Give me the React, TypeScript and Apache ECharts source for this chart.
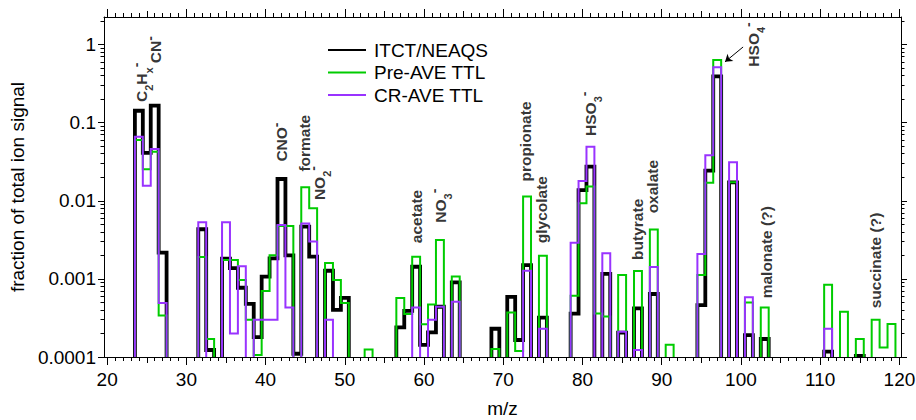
import React, { useEffect, useRef } from "react";
import * as echarts from "echarts";

// ---------- data ----------
const itctMz = [24, 25, 26, 27, 32, 33, 35, 36, 37, 38, 39, 40, 41, 42, 43, 44, 45, 46, 48, 49, 50, 57, 58, 59, 60, 61, 62, 64, 69, 71, 72, 73, 75, 79, 80, 81, 83, 85, 87, 89, 95, 96, 97, 99, 101, 103, 111, 115];
const itctVal = [0.142, 0.041, 0.165, 0.00217, 0.00432, 0.000123, 0.00182, 0.00137, 0.00077, 0.00048, 0.00018, 0.00107, 0.00183, 0.019, 0.002, 0.00011, 0.00467, 0.00193, 0.00127, 0.0004, 0.00057, 0.00024, 0.00039, 0.00143, 0.000143, 0.000207, 0.00044, 0.0009, 0.00023, 0.00059, 0.000165, 0.0015, 0.00032, 0.00036, 0.0137, 0.0273, 0.00116, 0.000205, 0.00042, 0.00064, 0.00046, 0.0243, 0.39, 0.0172, 0.00019, 0.00017, 0.000117, 0.000103];

const preMz = [24, 25, 26, 27, 32, 33, 35, 36, 37, 38, 39, 40, 41, 42, 43, 45, 46, 48, 49, 50, 53, 57, 58, 59, 60, 61, 62, 64, 69, 71, 72, 73, 75, 79, 80, 81, 82, 83, 85, 87, 89, 91, 95, 96, 97, 99, 101, 103, 111, 113, 115, 117, 118, 119];
const preVal = [0.06, 0.0253, 0.0425, 0.00034, 0.0019, 0.00017, 0.00175, 0.00175, 0.00097, 0.0003, 0.000106, 0.0007, 0.002, 0.00475, 0.00475, 0.0149, 0.008, 0.0016, 0.00097, 0.00049, 0.000125, 0.00057, 0.000355, 0.00192, 0.000263, 0.00047, 0.00315, 0.00107, 0.000127, 0.00037, 0.000119, 0.0113, 0.00198, 0.00061, 0.0093, 0.0152, 0.00036, 0.00033, 0.00112, 0.00126, 0.0043, 0.000143, 0.00112, 0.017, 0.635, 0.0172, 0.0005, 0.00043, 0.00084, 0.00038, 0.00017, 0.0003, 0.000132, 0.000265];

const crMz = [24, 25, 26, 27, 32, 35, 36, 37, 39, 40, 41, 42, 43, 45, 46, 48, 59, 61, 62, 64, 73, 75, 79, 80, 81, 83, 85, 87, 89, 95, 96, 97, 99, 101, 111];
const crVal = [0.066, 0.0156, 0.046, 0.00049, 0.0053, 0.0053, 0.0002, 0.00145, 0.0003, 0.0003, 0.0003, 0.0049, 0.00043, 0.0051, 0.003, 0.0003, 0.00043, 0.0003, 0.00044, 0.00051, 0.00127, 0.00023, 0.0029, 0.0179, 0.0493, 0.00213, 0.00021, 0.000123, 0.00142, 0.00208, 0.0382, 0.512, 0.0311, 0.00058, 0.00023];

const seriesNames = ["ITCT/NEAQS", "Pre-AVE TTL", "CR-AVE TTL"];

// annotations (rich text, m/z of text centre, value at text start)
const annoText = [
  "{b|C}{sb|2}{b|H}{sb|x}{sp|-}",
  "{b|CN}{sp|-}",
  "{b|CNO}{sp|-}",
  "{b|formate}",
  "{b|NO}{sb|2}{sp|-}",
  "{b|acetate}",
  "{b|NO}{sb|3}{sp|-}",
  "{b|propionate}",
  "{b|glycolate}",
  "{b|HSO}{sb|3}{sp|-}",
  "{b|butyrate}",
  "{b|oxalate}",
  "{b|HSO}{sb|4}{sp|-}",
  "{b|malonate (?)}",
  "{b|succinate (?)}",
];
const annoMz = [24.34, 26.13, 42.02, 44.96, 46.8, 59.04, 62.05, 72.8, 74.85, 80.95, 86.95, 88.8, 101.63, 103.2, 116.97];
const annoVal = [0.184, 0.576, 0.0317, 0.0236, 0.0102, 0.00286, 0.00524, 0.0176, 0.00286, 0.0676, 0.00175, 0.0069, 0.521, 0.000564, 0.00042];

const arrowFrom = [100.27, 0.93];
const arrowTo = [97.99, 0.6];

const xMajor = [20, 30, 40, 50, 60, 70, 80, 90, 100, 110, 120];
const yMajor = [0.0001, 0.001, 0.01, 0.1, 1];
const yTickLabels = ["0.0001", "0.001", "0.01", "0.1", "1"];

// ---------- layout constants ----------
const X_MIN = 19.6;
const X_MAX = 120.2;
const Y_MIN = 0.0001;
const Y_MAX = 2.25;
const FONT = "'Liberation Sans', Arial, Helvetica, sans-serif";

const xMid: number[] = [];
for (let v = 25; v <= 115; v += 10) xMid.push(v);
const xMinor: number[] = [];
for (let v = 20; v <= 120; v += 1) xMinor.push(v);
const yMinor: number[] = [];
for (const d of yMajor) for (let k = 2; k <= 9; k++) if (k * d <= Y_MAX) yMinor.push(k * d);

function buildSteps(mz: number[], vals: number[]) {
  const pts: number[][] = [];
  let i = 0;
  while (i < mz.length) {
    let j = i;
    while (j + 1 < mz.length && mz[j + 1] === mz[j] + 1) j++;
    pts.push([mz[i] - 0.5, Y_MIN]);
    for (let k = i; k <= j; k++) {
      pts.push([mz[k] - 0.5, vals[k]]);
      pts.push([mz[k] + 0.5, vals[k]]);
    }
    pts.push([mz[j] + 0.5, Y_MIN]);
    pts.push([mz[j] + 0.5, NaN]);
    i = j + 1;
  }
  return pts;
}

const black = "#000000";

function xAxis(position: string, ticks: number[], len: number, main: boolean, line: boolean) {
  return {
    type: "value",
    position,
    min: X_MIN,
    max: X_MAX,
    name: main ? "m/z" : "",
    nameLocation: "middle",
    nameGap: 42,
    nameTextStyle: { fontSize: 19, fontFamily: FONT, color: black },
    axisLine: { show: line, onZero: false, lineStyle: { color: black, width: 1 } },
    axisTick: { show: true, inside: false, length: len, customValues: ticks, lineStyle: { color: black, width: 1 } },
    axisLabel: main
      ? { show: true, customValues: xMajor, color: black, fontSize: 19, fontFamily: FONT, margin: 13 }
      : { show: false },
    splitLine: { show: false },
    minorTick: { show: false },
  };
}

function yAxis(position: string, ticks: number[], len: number, main: boolean, line: boolean) {
  return {
    type: "log",
    logBase: 10,
    position,
    min: Y_MIN,
    max: Y_MAX,
    name: main ? "fraction of total ion signal" : "",
    nameLocation: "middle",
    nameGap: 75,
    nameTextStyle: { fontSize: 19, fontFamily: FONT, color: black },
    axisLine: { show: line, onZero: false, lineStyle: { color: black, width: 1 } },
    axisTick: { show: true, inside: false, length: len, customValues: ticks, lineStyle: { color: black, width: 1 } },
    axisLabel: main
      ? {
          show: true,
          customValues: yMajor,
          color: black,
          fontSize: 19,
          fontFamily: FONT,
          margin: 8,
          formatter: (v: number) => {
            const i = yMajor.findIndex((m) => Math.abs(Math.log10(m) - Math.log10(v)) < 1e-6);
            return i >= 0 ? yTickLabels[i] : String(v);
          },
        }
      : { show: false },
    splitLine: { show: false },
    minorTick: { show: false },
  };
}

const rich = {
  b: { fontSize: 15.5, fontWeight: "bold", fontFamily: FONT, color: black, lineHeight: 26, verticalAlign: "middle" },
  sb: { fontSize: 11, fontWeight: "bold", fontFamily: FONT, color: black, lineHeight: 11, verticalAlign: "bottom" },
  sp: { fontSize: 14, fontWeight: "bold", fontFamily: FONT, color: black, lineHeight: 12, verticalAlign: "top" },
};

const option = {
  animation: false,
  backgroundColor: "#ffffff",
  grid: { left: 104, right: 15, top: 17, bottom: 63, containLabel: false, outerBoundsMode: "none" },
  legend: {
    data: seriesNames,
    orient: "vertical",
    left: 327,
    top: 39,
    padding: 0,
    itemWidth: 38,
    itemHeight: 14,
    itemGap: 0.5,
    itemStyle: { opacity: 0 },
    textStyle: { fontSize: 19, fontFamily: FONT, color: black, lineHeight: 22, padding: [0, 0, 0, 3] },
  },
  xAxis: [
    xAxis("bottom", xMajor, 8, true, true),
    xAxis("bottom", xMid, 6, false, false),
    xAxis("bottom", xMinor, 4, false, false),
    xAxis("top", xMajor, 8, false, true),
    xAxis("top", xMid, 6, false, false),
    xAxis("top", xMinor, 4, false, false),
  ],
  yAxis: [
    yAxis("left", yMajor, 6, true, true),
    yAxis("left", yMinor, 3.5, false, false),
    yAxis("right", yMajor, 6, false, true),
    yAxis("right", yMinor, 3.5, false, false),
  ],
  series: [
    {
      name: seriesNames[0],
      type: "line",
      xAxisIndex: 0,
      yAxisIndex: 0,
      data: buildSteps(itctMz, itctVal),
      symbol: "none",
      connectNulls: false,
      color: black,
      lineStyle: { color: black, width: 3.8, join: "miter", cap: "butt" },
      z: 2,
    },
    {
      name: seriesNames[1],
      type: "line",
      xAxisIndex: 0,
      yAxisIndex: 0,
      data: buildSteps(preMz, preVal),
      symbol: "none",
      connectNulls: false,
      color: "#00cc00",
      lineStyle: { color: "#00cc00", width: 2, join: "miter", cap: "butt" },
      z: 3,
    },
    {
      name: seriesNames[2],
      type: "line",
      xAxisIndex: 0,
      yAxisIndex: 0,
      data: buildSteps(crMz, crVal),
      symbol: "none",
      connectNulls: false,
      color: "#9933ff",
      lineStyle: { color: "#9933ff", width: 2, join: "miter", cap: "butt" },
      z: 4,
    },
    {
      name: "notes",
      type: "scatter",
      xAxisIndex: 0,
      yAxisIndex: 0,
      symbolSize: 0,
      silent: true,
      itemStyle: { color: "rgba(0,0,0,0)" },
      z: 6,
      label: {
        show: true,
        position: "inside",
        rotate: 90,
        align: "left",
        verticalAlign: "middle",
        rich,
      },
      data: annoMz.map((m, i) => ({ value: [m, annoVal[i]], label: { formatter: annoText[i] } })),
      markLine: {
        silent: true,
        symbol: ["none", "arrow"],
        symbolSize: 7,
        label: { show: false },
        lineStyle: { color: black, width: 1, type: "solid" },
        data: [[{ coord: arrowFrom }, { coord: arrowTo }]],
      },
    },
  ],
};

export default function App() {
  const ref = useRef<HTMLDivElement>(null);
  useEffect(() => {
    document.body.style.margin = "0";
    const chart = echarts.init(ref.current as HTMLDivElement, null, { renderer: "svg" });
    chart.setOption(option as any);
    return () => chart.dispose();
  }, []);
  return <div ref={ref} style={{ width: 916, height: 420, position: "absolute", left: 0, top: 0 }} />;
}
